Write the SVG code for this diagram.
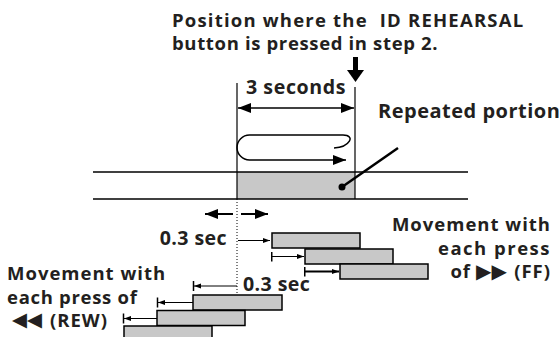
<svg xmlns="http://www.w3.org/2000/svg" width="560" height="337" viewBox="0 0 560 337">
<style>
text{font-family:"Open Sans","Liberation Sans",sans-serif;font-weight:700;fill:#231f20}
.cap{font-size:18.5px}
.lab{font-size:18.5px;letter-spacing:1px}
.big{font-size:19.6px;letter-spacing:0.4px}
.ln{stroke:#000;fill:none}
.bar{fill:#c8c8c8;stroke:#000;stroke-width:1.5}
.sym{font-family:"DejaVu Sans",sans-serif;font-weight:normal;font-size:20px;letter-spacing:0}
</style>
<defs>
<marker id="big" markerUnits="userSpaceOnUse" markerWidth="14" markerHeight="10" refX="13" refY="5" orient="auto-start-reverse" viewBox="0 0 14 10"><path d="M0,0 L13,5 L0,10 Z" fill="#000"/></marker>
<marker id="sm" markerUnits="userSpaceOnUse" markerWidth="8" markerHeight="6" refX="7" refY="3" orient="auto" viewBox="0 0 8 6"><path d="M0,0.5 L7,3 L0,5.5 Z" fill="#000"/></marker>
<marker id="tick" markerUnits="userSpaceOnUse" markerWidth="2" markerHeight="10" refX="1" refY="5" orient="auto" viewBox="0 0 2 10"><rect x="0" y="0" width="1.5" height="10" fill="#000"/></marker>
</defs>

<g id="caption">
<text class="cap" xml:space="preserve"><tspan x="172" y="26.5" style="letter-spacing:1.2px">Position where the  ID REHEARSAL</tspan><tspan x="172" y="50" style="letter-spacing:0.65px">button is pressed in step 2.</tspan></text>
</g>

<g id="press-arrow">
<rect x="353" y="57" width="5" height="14" fill="#000"/>
<path d="M347,70 L364,70 L355.5,82 Z" fill="#000"/>
</g>

<g id="tape">
<rect class="bar" x="237" y="172" width="118" height="27" style="stroke:none"/>
<line class="ln" x1="93" y1="172" x2="468" y2="172" stroke-width="1.5"/>
<line class="ln" x1="93" y1="199" x2="468" y2="199" stroke-width="1.5"/>
<line class="ln" x1="237" y1="83" x2="237" y2="199" stroke-width="1.2"/>
<line class="ln" x1="355" y1="87" x2="355" y2="199" stroke-width="1.2"/>
</g>

<g id="three-seconds">
<text class="big" x="296" y="94" text-anchor="middle" style="letter-spacing:0.6px">3 seconds</text>
<line class="ln" x1="238" y1="108" x2="354" y2="108" stroke-width="1.5" marker-start="url(#big)" marker-end="url(#big)"/>
</g>

<g id="loop">
<path class="ln" d="M334,148 C350,147 356,135 343,135 L249.5,135 A12.5,12.5 0 0 0 249.5,160 L346,160" stroke-width="1.5" marker-end="url(#big)"/>
</g>

<g id="repeated">
<text x="378" y="118" style="font-size:20px;letter-spacing:0.5px">Repeated portion</text>
<line class="ln" x1="342" y1="187" x2="398" y2="148" stroke-width="2.5"/>
<circle cx="342" cy="187" r="3.5" fill="#000"/>
</g>

<g id="connectors">
<line class="ln" x1="237" y1="199" x2="237" y2="293" stroke-width="1" stroke-dasharray="1 2"/>
<line class="ln" x1="233" y1="214" x2="205" y2="214" stroke-width="2" marker-end="url(#big)"/>
<line class="ln" x1="241" y1="214" x2="268" y2="214" stroke-width="2" marker-end="url(#big)"/>
<line class="ln" x1="238" y1="240.5" x2="270" y2="240.5" stroke-width="1" marker-end="url(#sm)"/>
<line class="ln" x1="272" y1="256.5" x2="304" y2="256.5" stroke-width="1" marker-start="url(#tick)" marker-end="url(#sm)"/>
<line class="ln" x1="305" y1="271.5" x2="339" y2="271.5" stroke-width="2" marker-start="url(#tick)" marker-end="url(#sm)"/>
<line class="ln" x1="237" y1="286" x2="194" y2="286" stroke-width="1" marker-end="url(#sm)"/>
<line class="ln" x1="193" y1="302.5" x2="158" y2="302.5" stroke-width="1" marker-end="url(#sm)"/>
<line class="ln" x1="157" y1="318.5" x2="124" y2="318.5" stroke-width="1" marker-end="url(#sm)"/>
<line class="ln" x1="193.5" y1="281" x2="193.5" y2="291" stroke-width="1.5"/>
<line class="ln" x1="157.5" y1="297.5" x2="157.5" y2="307.5" stroke-width="1.5"/>
<line class="ln" x1="123.5" y1="313.5" x2="123.5" y2="323.5" stroke-width="1.5"/>
</g>

<g id="ff-bars">
<rect class="bar" x="272" y="233" width="88" height="15"/>
<rect class="bar" x="305" y="249" width="88" height="15"/>
<rect class="bar" x="340" y="264" width="88" height="15"/>
</g>

<g id="rew-bars">
<rect class="bar" x="193" y="295" width="89" height="15"/>
<rect class="bar" x="157" y="310.5" width="88" height="15"/>
<rect class="bar" x="124" y="326" width="88" height="15"/>
</g>

<g id="labels-sec">
<text class="big" x="227" y="245" text-anchor="end">0.3 sec</text>
<text class="big" x="243" y="291">0.3 sec</text>
</g>

<g id="ff-label">
<text class="lab" text-anchor="end"><tspan x="551" y="231">Movement with</tspan><tspan x="551" y="254.5" style="letter-spacing:1.5px">each press</tspan><tspan x="471" y="278">of</tspan><tspan x="551" y="278">(FF)</tspan></text>
<text class="sym" x="476" y="278">▶▶</text>
</g>

<g id="rew-label">
<text class="lab"><tspan x="7" y="280">Movement with</tspan><tspan x="7" y="303.5" style="letter-spacing:0.7px">each press of</tspan><tspan x="50" y="327">(REW)</tspan></text>
<text class="sym" x="12" y="326" style="font-size:19.5px">◀◀</text>
</g>
</svg>
